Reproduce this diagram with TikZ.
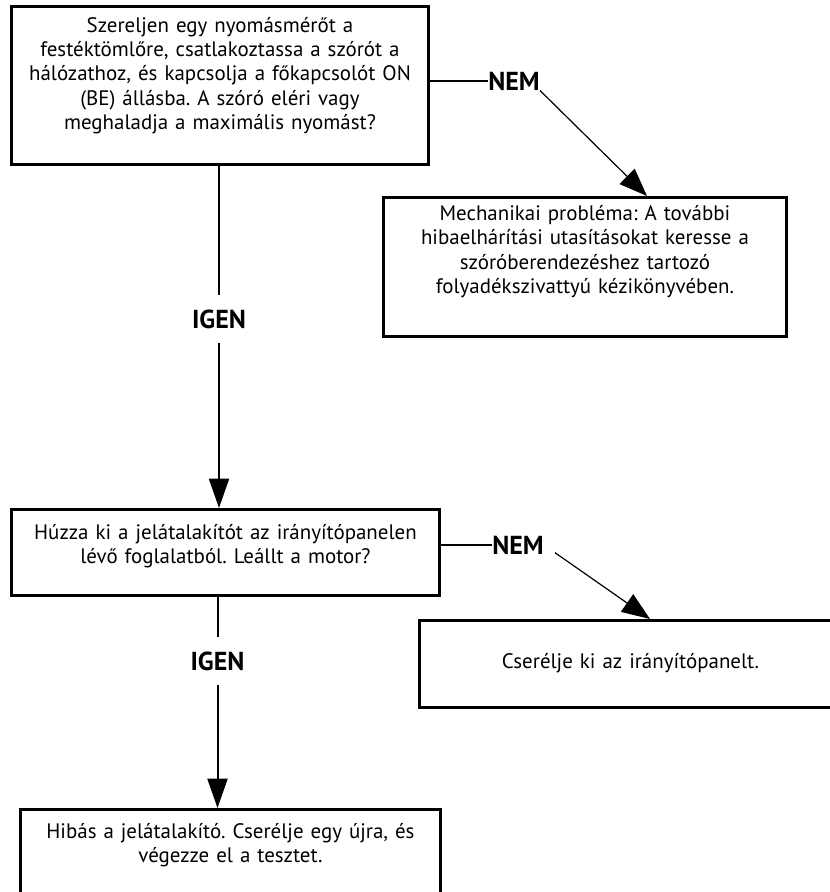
\documentclass[tikz,border=0pt]{standalone}
\usepackage{fontspec}
\setmainfont{PT Sans}
\usetikzlibrary{arrows.meta,calc}
\frenchspacing

\tikzset{
  stepbox/.style={draw, line width=2.2pt, inner sep=0pt, anchor=north west, align=center,
    font=\fontsize{15.7}{18.2}\selectfont},
  answer/.style={font=\bfseries\fontsize{19.5}{22}\selectfont, inner sep=0pt},
  yeslabel/.style={answer, inner ysep=11pt},
  link/.style={line width=1.5pt},
  flow/.style={line width=1.5pt, -{Triangle[length=22pt,width=15pt]}},
  nolink/.style={line width=0.9pt, -{Triangle[length=21pt,width=16pt]}}
}

\begin{document}
\begin{tikzpicture}[x=0.75pt,y=-0.75pt]
\useasboundingbox (0,0) rectangle (829,892);
% question and action boxes
\node[stepbox, text width=312.75pt, text height=19.5pt, text depth=99pt] (q1) at (10,5)
  {Szereljen egy nyomásmérőt a\\ festéktömlőre, csatlakoztassa a szórót a\\ hálózathoz, és kapcsolja a főkapcsolót ON\\ (BE) állásba. A szóró eléri vagy\\ meghaladja a maximális nyomást?};
\node[stepbox, text width=302.25pt, text height=17.25pt, text depth=87pt] (mech) at (382,196)
  {Mechanikai probléma: A további\\ hibaelhárítási utasításokat keresse a\\ szóróberendezéshez tartozó\\ folyadékszivattyú kézikönyvében.};
\node[stepbox, text width=321pt, text height=22.5pt, text depth=42pt] (q2) at (10,508)
  {Húzza ki a jelátalakítót az irányítópanelen\\ lévő foglalatból. Leállt a motor?};
\node[stepbox, text width=316.5pt, text height=36pt, text depth=29.25pt] (panel) at (418,619)
  {Cserélje ki az irányítópanelt.};
\node[stepbox, text width=315pt, text height=21.75pt, text depth=47.25pt] (fault) at (19,808)
  {Hibás a jelátalakító. Cserélje egy újra, és\\ végezze el a tesztet.};

% answers
\node[answer] (nem1) at (514,81) {NEM};
\node[yeslabel] (igen1) at (219,319) {IGEN};
\node[answer] (nem2) at (518,545) {NEM};
\node[yeslabel] (igen2) at (217.5,661) {IGEN};

% connectors
\draw[link] (q1.east |- nem1.west) -- (nem1.west);
\draw[nolink] (nem1.south east) -- ($(mech.north west)+(265,0)$);
\draw[link] (q1.south -| igen1) -- (igen1);
\draw[flow] (igen1) -- (q2.north -| igen1);
\draw[link] (q2.east |- nem2.west) -- (nem2.west);
\draw[nolink, shorten <=10pt] (nem2.east) -- ($(panel.north west)+(232,0)$);
\draw[link] (q2.south -| igen2) -- (igen2);
\draw[flow] (igen2) -- (fault.north -| igen2);
\end{tikzpicture}
\end{document}
